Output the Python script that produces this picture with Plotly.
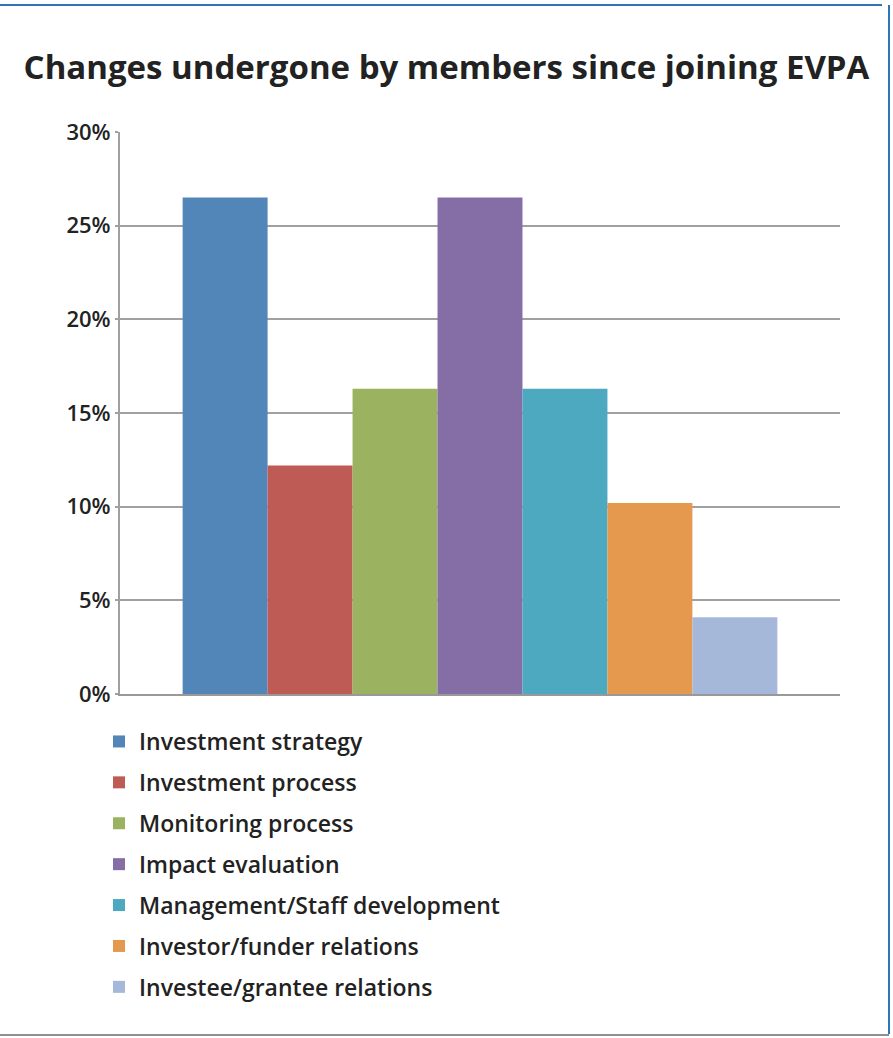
import plotly.graph_objects as go

categories = ["Investment strategy", "Investment process", "Monitoring process",
              "Impact evaluation", "Management/Staff development",
              "Investor/funder relations", "Investee/grantee relations"]
values = [26.5, 12.2, 16.3, 26.5, 16.3, 10.2, 4.1]
colors = ["#5285B8", "#BF5B55", "#9BB360", "#856EA5", "#4CA9C0", "#E5994E", "#A6B8DA"]
tick_vals = [0, 5, 10, 15, 20, 25, 30]
tick_text = ["0%", "5%", "10%", "15%", "20%", "25%", "30%"]

fig = go.Figure()
for i, (c, v, col) in enumerate(zip(categories, values, colors)):
    fig.add_trace(go.Bar(x=[""], y=[v], name=c, marker=dict(color=col, line=dict(width=0)),
                         legendgroup=f"g{i}"))

W, H = 893, 1038
L, R, T, B = 120, 53, 132, 344
pw, ph = W - L - R, H - T - B
def px(x): return (x - L) / pw
def py(y): return (H - B - y) / ph

fig.update_layout(
    width=W, height=H,
    margin=dict(l=L, r=R, t=T, b=B, autoexpand=False),
    paper_bgcolor="white", plot_bgcolor="white",
    barmode="group", bargap=0.174, bargroupgap=0,
    title=dict(text="<b>Changes undergone by members since joining EVPA</b>",
               x=0.5, xanchor="center", y=1 - 67 / H, yanchor="middle",
               font=dict(family="Open Sans", size=33, color="#222222")),
    xaxis=dict(showticklabels=False, showgrid=False, zeroline=False,
               showline=True, linecolor="#999999", linewidth=2, ticks=""),
    yaxis=dict(range=[0, 30], tickvals=tick_vals, ticktext=tick_text,
               showgrid=True, gridcolor="#A0A0A0", gridwidth=2,
               showline=True, linecolor="#A0A0A0", linewidth=2,
               ticks="outside", ticklen=3, tickcolor="#A0A0A0", tickwidth=2,
               zeroline=False,
               tickfont=dict(family="Open Sans", size=22, weight=600, color="#222222")),
    legend=dict(x=px(99), y=py(720), xanchor="left", yanchor="top",
                orientation="v", tracegroupgap=8, traceorder="grouped",
                font=dict(family="Open Sans", size=23, weight=600, color="#222222"),
                itemwidth=30, bgcolor="rgba(0,0,0,0)"),
    showlegend=True,
    shapes=[
        dict(type="line", xref="paper", yref="paper", x0=px(0), x1=px(882), y0=py(5), y1=py(5),
             line=dict(color="#2E75B6", width=2)),
        dict(type="line", xref="paper", yref="paper", x0=px(889), x1=px(889), y0=py(5), y1=py(1034),
             line=dict(color="#2E75B6", width=2)),
        dict(type="line", xref="paper", yref="paper", x0=px(0), x1=px(889), y0=py(1035), y1=py(1035),
             line=dict(color="#909090", width=2)),
    ],
)

fig.write_html("out.html", config={"displayModeBar": False},
               post_script="document.body.style.margin='0';document.body.style.overflow='hidden';")
